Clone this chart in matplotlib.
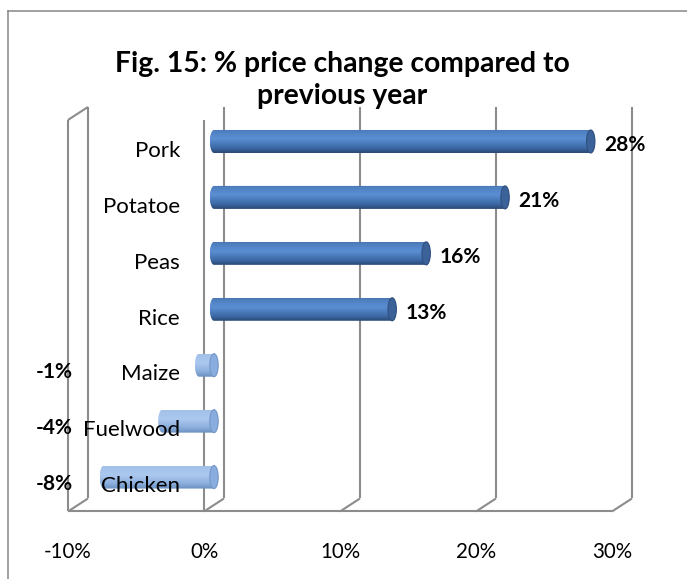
import matplotlib
matplotlib.use("Agg")
import matplotlib.pyplot as plt
from matplotlib.path import Path
from matplotlib.patches import PathPatch, Ellipse
from matplotlib.colors import LinearSegmentedColormap
from matplotlib.lines import Line2D
import numpy as np

plt.rcParams['font.family'] = ['Lato', 'DejaVu Sans']

# data (bottom to top)
categories = ["Chicken", "Fuelwood", "Maize", "Rice", "Peas", "Potatoe", "Pork"]
values = [-8.1, -3.8, -1.1, 13.1, 15.6, 21.4, 27.7]
ticks = [-10, 0, 10, 20, 30]
title = "Fig. 15: % price change compared to\nprevious year"

W, H = 687, 579
DPI = 100
PX_X = 13.6      # px per 1 %
X0_PX = 204      # front 0% position
PX_Y = 55.93     # px per category
Y0_PX = 483.5    # front position of first category (from top)

# 3-D offsets (data units)
BACK_DX, BACK_DY = 20 / PX_X, 13 / PX_Y
BAR_DX, BAR_DY = 10 / PX_X, 0.115
BAR_HALF = 11.5 / PX_Y
CAP_A = 4.2 / PX_X

GRID = "#8c8c8c"
pos_cmap = LinearSegmentedColormap.from_list(
    "pos", [(0, "#2a4873"), (0.2, "#3b67a2"), (0.6, "#5b8fd3"), (0.85, "#5183c4"), (1, "#4a77b2")])
neg_cmap = LinearSegmentedColormap.from_list(
    "neg", [(0, "#6a8fc0"), (0.25, "#8cafdd"), (0.6, "#abc8ef"), (1, "#a3c0e8")])

fig = plt.figure(figsize=(W / DPI, H / DPI), dpi=DPI)
ax = fig.add_axes([0, 0, 1, 1])
ax.set_axis_off()
xlim = (-X0_PX / PX_X, (W - X0_PX) / PX_X)
ylim = ((Y0_PX - H) / PX_Y, Y0_PX / PX_Y)


def line(xs, ys, **kw):
    ax.plot(xs, ys, color=GRID, lw=1.5, solid_capstyle="butt", zorder=1, **kw)


y_floor, y_top = -0.5, len(categories) - 0.5
x_min, x_max = ticks[0], ticks[-1]

# floor front edge
line([x_min, x_max], [y_floor, y_floor])
# back gridlines with floor diagonals
for t in ticks:
    line([t + BACK_DX, t + BACK_DX], [y_floor + BACK_DY, y_top + BACK_DY])
    line([t, t + BACK_DX], [y_floor, y_floor + BACK_DY])
# left side and zero wall: front verticals
for t in (x_min, 0):
    line([t, t], [y_floor, y_top])
line([x_min, x_min + BACK_DX], [y_top, y_top + BACK_DY])

# cylinders
grad = np.linspace(0, 1, 256).reshape(-1, 1)
for i, v in enumerate(values):
    yc = i + BAR_DY
    xl, xr = min(0, v) + BAR_DX, max(0, v) + BAR_DX
    t_left = np.linspace(np.pi / 2, 3 * np.pi / 2, 40)
    t_right = np.linspace(-np.pi / 2, np.pi / 2, 40)
    pts = np.vstack([
        np.column_stack([xl + CAP_A * np.cos(t_left), yc + BAR_HALF * np.sin(t_left)]),
        np.column_stack([xr + CAP_A * np.cos(t_right), yc + BAR_HALF * np.sin(t_right)]),
    ])
    clip = PathPatch(Path(np.vstack([pts, pts[:1]]), closed=True), transform=ax.transData,
                     fc="none", ec="none")
    ax.add_patch(clip)
    cmap = pos_cmap if v > 0 else neg_cmap
    im = ax.imshow(grad, cmap=cmap, origin="lower", aspect="auto", zorder=2,
                   extent=[xl - CAP_A, xr + CAP_A, yc - BAR_HALF, yc + BAR_HALF],
                   interpolation="bilinear")
    im.set_clip_path(clip)
    cap_fc = "#3c6399" if v > 0 else "#8aade0"
    cap_ec = "#2f5080" if v > 0 else "#7597c8"
    ax.add_patch(Ellipse((xr, yc), 2 * CAP_A, 2 * BAR_HALF, fc=cap_fc, ec=cap_ec,
                         lw=0.8, zorder=3))

    # value labels
    if v > 0:
        ax.text(xr + CAP_A + 9 / PX_X, yc - 0.07, f"{v:.0f}%", ha="left", va="center",
                fontsize=15, fontweight="bold", zorder=5)
    else:
        ax.text(x_min - 1.0, i, f"{v:.0f}%", ha="center", va="center",
                fontsize=15, fontweight="bold", zorder=5)

# category labels
for i, c in enumerate(categories):
    ax.text(-24 / PX_X, i - 0.05, c, ha="right", va="center", fontsize=16, zorder=5)

# tick labels
for t in ticks:
    ax.text(t, (Y0_PX - 552) / PX_Y, f"{t}%", ha="center", va="center", fontsize=14.8)

ax.set_xlim(*xlim)
ax.set_ylim(*ylim)

fig.text(342 / W, 1 - 80 / H, title, ha="center", va="center", fontsize=20.3,
         fontweight="bold", linespacing=1.3)

# outer chart border
fig.add_artist(Line2D([7.5 / W, 7.5 / W], [0, 1 - 11 / H], color="#868686", lw=1.1))
fig.add_artist(Line2D([7.5 / W, 1], [1 - 11 / H, 1 - 11 / H], color="#868686", lw=1.1))

fig.savefig("out.png", dpi=DPI, facecolor="white")
